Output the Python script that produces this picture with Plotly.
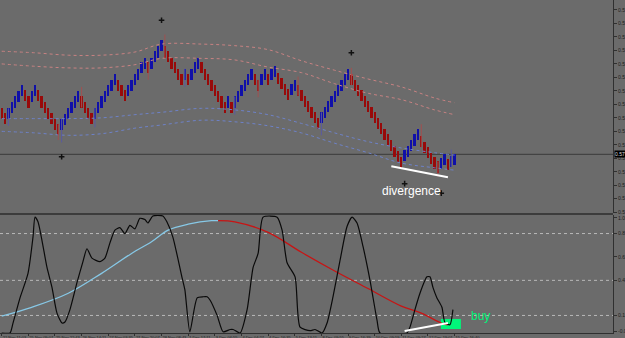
import plotly.graph_objects as go

# ---------------- price panel data (bar index = time slot) ----------------
CLOSE = [
    0.5823, 0.5816, 0.5836, 0.5844, 0.5851, 0.5858, 0.5865, 0.5845, 0.5837, 0.5858,
    0.5865, 0.5845, 0.5837, 0.5830, 0.5823, 0.5816, 0.5809, 0.5802, 0.5823, 0.5829,
    0.5837, 0.5844, 0.5851, 0.5858, 0.5837, 0.5830, 0.5823, 0.5816, 0.5837, 0.5844,
    0.5851, 0.5858, 0.5865, 0.5872, 0.5879, 0.5858, 0.5852, 0.5845, 0.5865, 0.5872,
    0.5879, 0.5886, 0.5894, 0.5900, 0.5880, 0.5900, 0.5908, 0.5914, 0.5922, 0.5900,
    0.5894, 0.5886, 0.5880, 0.5872, 0.5865, 0.5886, 0.5865, 0.5886, 0.5894, 0.5900,
    0.5880, 0.5872, 0.5865, 0.5858, 0.5851, 0.5844, 0.5837, 0.5830, 0.5851, 0.5830,
    0.5851, 0.5858, 0.5865, 0.5872, 0.5879, 0.5886, 0.5865, 0.5858, 0.5879, 0.5886,
    0.5865, 0.5886, 0.5889, 0.5867, 0.5860, 0.5853, 0.5847, 0.5867, 0.5872, 0.5852,
    0.5845, 0.5838, 0.5831, 0.5824, 0.5817, 0.5810, 0.5831, 0.5838, 0.5845, 0.5852,
    0.5858, 0.5865, 0.5872, 0.5879, 0.5886, 0.5865, 0.5858, 0.5852, 0.5845, 0.5838,
    0.5831, 0.5824, 0.5817, 0.5810, 0.5803, 0.5796, 0.5789, 0.5782, 0.5775, 0.5768,
    0.5761, 0.5783, 0.5789, 0.5796, 0.5803, 0.5810, 0.5787, 0.5780, 0.5773, 0.5766,
    0.5760, 0.5755, 0.5773, 0.5779, 0.5758, 0.5776, 0.5778,
]
DIRECTION = ("DDUUUUUDDUUDDDDDDDUUUUUUDDDDUUUUUUUDDDUUUUUUDUUUUDDDDDDUDUUU"
             "DDDDDDDDUDUUUUUUDDUUDUUDDDDUUDDDDDDDUUUUUUUUUDDDDDDDDDDDDDDDD"
             "UUUUUDDDDDDUUDUU")
BRICK = 0.0014
WICK_HIGH = {24: 0.5863, 49: 0.5929, 89: 0.5876, 105: 0.5887, 126: 0.5816, 135: 0.5784}
WICK_LOW = {2: 0.5814, 17: 0.5796, 18: 0.5793, 28: 0.5812, 44: 0.5872, 55: 0.5863,
            70: 0.5828, 77: 0.5850, 96: 0.5802, 131: 0.5750}
CURRENT_PRICE = 0.5778

BAND_X = [0, 10, 20, 30, 40, 48, 60, 70, 80, 90, 100, 110, 120, 130, 136]
UPPER_1 = [0.5908, 0.5906, 0.5903, 0.5903, 0.5907, 0.5917, 0.5917, 0.5915, 0.5910, 0.5896,
           0.5884, 0.5873, 0.5863, 0.5849, 0.5843]
UPPER_2 = [0.5892, 0.5889, 0.5887, 0.5887, 0.5891, 0.5899, 0.5899, 0.5897, 0.5888, 0.5881,
           0.5867, 0.5855, 0.5847, 0.5834, 0.5828]
LOWER_1 = [0.5823, 0.5823, 0.5823, 0.5824, 0.5828, 0.5831, 0.5836, 0.5834, 0.5828, 0.5817,
           0.5805, 0.5794, 0.5786, 0.5780, 0.5777]
LOWER_2 = [0.5807, 0.5805, 0.5802, 0.5804, 0.5811, 0.5815, 0.5821, 0.5819, 0.5814, 0.5805,
           0.5792, 0.5780, 0.5767, 0.5761, 0.5758]

FRACTAL_X = [18, 48, 105, 121, 132]
FRACTAL_Y = [0.5775, 0.5947, 0.5906, 0.5741, 0.5729]

DIV_PRICE_X = [117, 134]
DIV_PRICE_Y = [0.5763, 0.5749]

PRICE_TICKS = [0.5960, 0.5943, 0.5926, 0.5909, 0.5892, 0.5875, 0.5858, 0.5841,
               0.5824, 0.5807, 0.5790, 0.5773, 0.5756, 0.5739, 0.5722, 0.5705]

# ---------------- indicator panel data ----------------
OSC_X = [0, 2.5, 3.4, 5.5, 7.9, 9.4, 10.0, 10.9, 12.1, 13.6, 15.1, 16.6, 18.1, 19.0, 20.5,
         22.6, 24.4, 25.6, 27.1, 29.5, 31.0, 32.5, 34.0, 35.5, 37.0, 38.5, 40.0, 41.5, 43.0,
         43.9, 45.4, 48.4, 49.6, 51.4, 54.1, 55.0, 56.5, 58.7, 60.5, 61.7, 62.6, 64.7, 66.5,
         68.6, 69.5, 71.6, 73.7, 75.5, 77.0, 78.5, 82.7, 84.2, 85.7, 88.1, 89.6, 92.6, 94.1,
         96.2, 97.7, 99.5, 101.6, 103.7, 105.2, 106.7, 108.5, 110.6, 112.7, 113.6, 121.7,
         122.6, 124.1, 125.6, 127.7, 128.6, 129.5, 130.7, 132.2, 133.1, 134.6, 135.5]
OSC_V = [0.0, 0.0, 0.085, 0.30, 0.51, 0.82, 0.99, 0.95, 0.79, 0.56, 0.39, 0.17, 0.085, 0.094,
         0.20, 0.43, 0.61, 0.72, 0.64, 0.61, 0.64, 0.77, 0.88, 0.90, 0.85, 0.92, 0.89, 0.98,
         0.97, 0.94, 1.0, 1.0, 0.95, 0.82, 0.48, 0.37, 0.01, 0.30, 0.31, 0.31, 0.28, 0.15,
         0.01, 0.03, 0.03, 0.0, 0.20, 0.56, 0.68, 0.99, 0.99, 0.88, 0.60, 0.48, 0.05, 0.02,
         0.03, 0.0, 0.085, 0.31, 0.62, 0.91, 0.99, 0.94, 0.74, 0.45, 0.11, 0.0, 0.0, 0.05,
         0.20, 0.34, 0.48, 0.48, 0.39, 0.30, 0.22, 0.09, 0.07, 0.20]

TREND_UP_X = [0, 9, 20, 30, 39, 45, 50, 56, 63, 65]
TREND_UP_V = [0.145, 0.22, 0.34, 0.51, 0.68, 0.78, 0.88, 0.93, 0.96, 0.96]
TREND_DN_X = [65, 70, 80, 90, 100, 110, 120, 126, 132, 134]
TREND_DN_V = [0.96, 0.95, 0.86, 0.69, 0.53, 0.38, 0.23, 0.17, 0.085, 0.07]

DIV_IND_X = [121, 134]
DIV_IND_V = [0.017, 0.085]

LEVELS = [0.85, 0.45, 0.15]
IND_TICKS = [0.985, 0.85, 0.65, 0.45, 0.15, 0.015]
IND_TICK_TEXT = ["1.001", "0.85", "0.65", "0.45", "0.15", "-0.002"]

TIME_TICKS = [0, 8, 16, 24, 32, 40, 48, 56, 64, 72, 80, 88, 96, 104, 112, 120, 128, 136]
TIME_LABELS = ["22 Nov 11:03", "25 Nov 09:07", "25 Nov 22:43", "26 Nov 14:11", "27 Nov 03:35",
               "27 Nov 20:07", "28 Nov 08:43", "1 Dec 17:11", "3 Dec 04:55", "4 Dec 04:27",
               "4 Dec 16:35", "5 Dec 13:11", "8 Dec 09:55", "9 Dec 16:39", "10 Dec 09:59",
               "11 Dec 09:27", "12 Dec 19:01", "15 Dec 16:40"]

# ---------------- style ----------------
BG = "#6b6b6b"
BLUE = "#1010a8"
RED = "#980a0a"
BLUE_WICK = "#5a5aa0"
RED_WICK = "#a05050"
AXIS = "#303030"
W, H = 625, 338
XD = 613 / W
XR = [-0.51, 183.57]

idx = list(range(len(CLOSE)))
opens, colors = [], []
for c, d in zip(CLOSE, DIRECTION):
    if d == "U":
        opens.append(c - BRICK)
        colors.append(BLUE)
    else:
        opens.append(c + BRICK)
        colors.append(RED)

fig = go.Figure()

# bands
for vals, col in [(UPPER_1, "#c88282"), (UPPER_2, "#c88282"),
                  (LOWER_1, "#6e82c8"), (LOWER_2, "#6e82c8")]:
    fig.add_trace(go.Scatter(x=BAND_X, y=vals, mode="lines", xaxis="x", yaxis="y",
                             line=dict(color=col, width=1, dash="dot", shape="spline"),
                             hoverinfo="skip"))

# wicks
for col_body, col_wick in [(BLUE, BLUE_WICK), (RED, RED_WICK)]:
    wx, wy = [], []
    for i in idx:
        if colors[i] != col_body:
            continue
        top = max(opens[i], CLOSE[i])
        bot = min(opens[i], CLOSE[i])
        hi = WICK_HIGH.get(i, top)
        lo = WICK_LOW.get(i, bot)
        if hi > top or lo < bot:
            wx += [i, i, None]
            wy += [lo, hi, None]
    fig.add_trace(go.Scatter(x=wx, y=wy, mode="lines", xaxis="x", yaxis="y",
                             line=dict(color=col_wick, width=1), hoverinfo="skip"))

# bodies
fig.add_trace(go.Bar(x=idx, y=[c - o for c, o in zip(CLOSE, opens)], base=opens,
                     xaxis="x", yaxis="y", width=0.7,
                     marker=dict(color=colors, line=dict(width=0))))

# fractals
fig.add_trace(go.Scatter(x=FRACTAL_X, y=FRACTAL_Y, mode="markers", xaxis="x", yaxis="y",
                         marker=dict(symbol="cross-thin", size=4,
                                     line=dict(color="#111111", width=1.5))))

# divergence line (price)
fig.add_trace(go.Scatter(x=DIV_PRICE_X, y=DIV_PRICE_Y, mode="lines", xaxis="x", yaxis="y",
                         line=dict(color="white", width=2)))

# indicator lines
fig.add_trace(go.Scatter(x=TREND_UP_X, y=TREND_UP_V, mode="lines", xaxis="x2", yaxis="y2",
                         line=dict(color="#87c8e6", width=1.3, shape="spline")))
fig.add_trace(go.Scatter(x=TREND_DN_X, y=TREND_DN_V, mode="lines", xaxis="x2", yaxis="y2",
                         line=dict(color="#c81414", width=1.3, shape="spline")))
fig.add_trace(go.Scatter(x=OSC_X, y=OSC_V, mode="lines", xaxis="x2", yaxis="y2",
                         line=dict(color="#0a0a0a", width=1.2, shape="spline", smoothing=0.6)))
fig.add_trace(go.Scatter(x=DIV_IND_X, y=DIV_IND_V, mode="lines", xaxis="x2", yaxis="y2",
                         line=dict(color="white", width=2)))

shapes = []
for lv in LEVELS:
    shapes.append(dict(type="line", xref="paper", yref="y2", x0=0, x1=XD, y0=lv, y1=lv,
                       line=dict(color="#b9b9b9", width=1, dash="dot"), layer="below"))
shapes.append(dict(type="line", xref="paper", yref="y", x0=0, x1=XD,
                   y0=CURRENT_PRICE, y1=CURRENT_PRICE, line=dict(color="#3a3a3a", width=1),
                   layer="below"))
sep_y = (H - 214) / H
shapes.append(dict(type="line", xref="paper", yref="paper", x0=0, x1=XD, y0=sep_y, y1=sep_y,
                   line=dict(color="#3c3c3c", width=2)))
shapes.append(dict(type="rect", xref="x2", yref="y2", x0=131.9, x1=137.9, y0=0.034, y1=0.12,
                   fillcolor="#00f57a", line=dict(width=0), layer="below"))

annotations = [
    dict(x=123.2, y=0.5732, xref="x", yref="y", text="divergence", showarrow=False,
         font=dict(family="Liberation Sans, Arial", size=12, color="white"),
         xanchor="center", yanchor="middle"),
    dict(x=143.9, y=0.145, xref="x2", yref="y2", text="buy", showarrow=False,
         font=dict(family="Liberation Sans, Arial", size=12, color="#00f57a"),
         xanchor="center", yanchor="middle"),
    dict(x=XD + 0.002, y=CURRENT_PRICE, xref="paper", yref="y", text=f"{CURRENT_PRICE:.4f}",
         showarrow=False, xanchor="left", yanchor="middle", bgcolor="#000000",
         font=dict(family="Liberation Sans, Arial", size=5, color="#dddddd"), borderpad=0),
]

tickfont = dict(family="Liberation Sans, Arial", size=5, color="#1e1e1e")

fig.update_layout(
    width=W, height=H, autosize=False,
    margin=dict(l=0, r=0, t=0, b=0, pad=0, autoexpand=False),
    paper_bgcolor=BG, plot_bgcolor=BG,
    showlegend=False, barmode="overlay", bargap=0,
    shapes=shapes, annotations=annotations,
    xaxis=dict(domain=[0, XD], range=XR, anchor="y", showticklabels=False, showgrid=False,
               zeroline=False, showline=False, ticks="", automargin=False),
    xaxis2=dict(domain=[0, XD], range=XR, anchor="y2", tickmode="array", tickvals=TIME_TICKS,
                ticktext=TIME_LABELS, ticklabelposition="outside right", ticks="outside",
                tickangle=0, ticklen=2, tickcolor=AXIS, showline=True, linecolor=AXIS,
                linewidth=1, automargin=False,
                tickfont=dict(family="Liberation Sans, Arial", size=4, color="#1e1e1e"),
                showgrid=False, zeroline=False),
    yaxis=dict(domain=[(H - 213) / H, 1], range=[0.57040, 0.59726], side="right", anchor="x",
               tickmode="array", tickvals=PRICE_TICKS, ticktext=[f"{t:.4f}" for t in PRICE_TICKS],
               ticks="outside", ticklen=3, tickcolor=AXIS, showline=True, linecolor=AXIS,
               linewidth=1, tickfont=tickfont, showgrid=False, zeroline=False, automargin=False),
    yaxis2=dict(domain=[(H - 333) / H, (H - 215) / H], range=[0, 1.0085], side="right",
                anchor="x2", tickmode="array", tickvals=IND_TICKS, ticktext=IND_TICK_TEXT,
                ticks="outside", ticklen=3, tickcolor=AXIS, showline=True, linecolor=AXIS,
                linewidth=1, tickfont=tickfont, showgrid=False, zeroline=False, automargin=False),
)

fig.write_html("out.html")
